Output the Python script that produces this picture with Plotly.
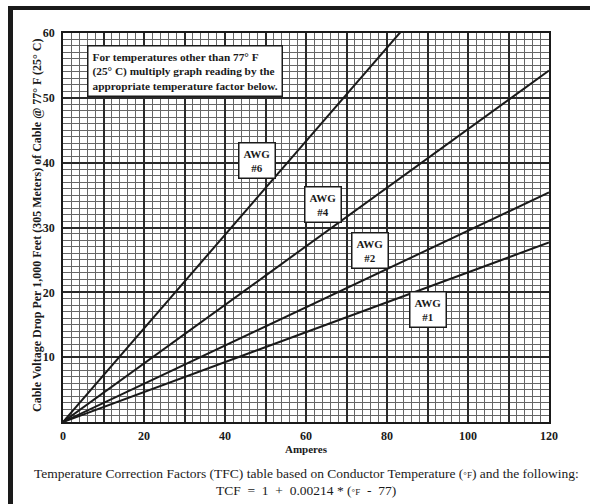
import plotly.graph_objects as go

# ---- data ----
amperes = [0, 120]
awg_names = ["AWG #6", "AWG #4", "AWG #2", "AWG #1"]
drop_awg6 = [0, 86.6]
drop_awg4 = [0, 54.2]
drop_awg2 = [0, 35.4]
drop_awg1 = [0, 27.7]
x_tickvals = list(range(0, 121, 10))
x_ticktext = ["0", "", "20", "", "40", "", "60", "", "80", "", "100", "", "120"]
y_tickvals = [10, 20, 30, 40, 50, 60]
y_ticktext = ["10", "20", "30", "40", "50", "60"]

W, H = 590, 504
L, R, T, B = 63, 41, 33, 82
PW, PH = W - L - R, H - T - B

def px_x(px):
    return (px - L) / PW

def px_y(py):
    return (H - B - py) / PH

SERIF = "Liberation Serif"

fig = go.Figure()
for name, ys in zip(awg_names, [drop_awg6, drop_awg4, drop_awg2, drop_awg1]):
    fig.add_trace(go.Scatter(x=amperes, y=ys, mode="lines", name=name,
                             line=dict(color="#1a1a1a", width=2), showlegend=False))

fig.update_layout(
    width=W, height=H,
    margin=dict(l=L, r=R, t=T, b=B, pad=0),
    paper_bgcolor="white", plot_bgcolor="white",
    font=dict(family=SERIF, color="#1a1a1a"),
    xaxis=dict(range=[0, 120], tickvals=x_tickvals, ticktext=x_ticktext,
               showgrid=True, gridcolor="#2a2a2a", gridwidth=1.6,
               zeroline=False, showline=True, linecolor="#1a1a1a", linewidth=1.5,
               mirror=True, ticks="", ticklabelstandoff=2,
               tickfont=dict(family=SERIF, size=12, color="#1a1a1a", weight="bold"),
               minor=dict(dtick=2, showgrid=True, gridcolor="#666666", gridwidth=1)),
    yaxis=dict(range=[0, 60], tickvals=y_tickvals, ticktext=y_ticktext,
               showgrid=True, gridcolor="#2a2a2a", gridwidth=1.6,
               zeroline=False, showline=True, linecolor="#1a1a1a", linewidth=1.5,
               mirror=True, ticks="", ticklabelstandoff=4,
               tickfont=dict(family=SERIF, size=12, color="#1a1a1a", weight="bold"),
               minor=dict(dtick=1, showgrid=True, gridcolor="#666666", gridwidth=1)),
)

# AWG labels (positions in data units)
label_pos = {"AWG #6": (47.9, 40.4), "AWG #4": (64.1, 33.6),
             "AWG #2": (75.9, 26.5), "AWG #1": (90.0, 17.4)}
for name in awg_names:
    lx, ly = label_pos[name]
    fig.add_annotation(x=lx, y=ly, xref="x", yref="y", showarrow=False,
                       xanchor="center", yanchor="middle",
                       text=name.replace(" ", "<br>"),
                       font=dict(family=SERIF, size=11, color="#1a1a1a", weight="bold"),
                       bgcolor="white", bordercolor="#1a1a1a", borderwidth=1.5, borderpad=4)

# note box
fig.add_annotation(x=px_x(87), y=px_y(45), xref="paper", yref="paper",
                   xanchor="left", yanchor="top", showarrow=False, align="left",
                   text="For temperatures other than 77° F<br>(25° C) multiply graph reading by the"
                        "<br>appropriate temperature factor below.",
                   font=dict(family=SERIF, size=11.3, color="#1a1a1a", weight="bold"),
                   bgcolor="white", bordercolor="#1a1a1a", borderwidth=1.5, borderpad=4)

# axis titles
fig.add_annotation(x=px_x(37), y=px_y(226), xref="paper", yref="paper", showarrow=False,
                   xanchor="center", yanchor="middle", textangle=-90,
                   text="Cable Voltage Drop Per 1,000 Feet (305 Meters) of Cable @ 77° F (25° C)",
                   font=dict(family=SERIF, size=12, color="#1a1a1a", weight="bold"))
fig.add_annotation(x=px_x(306), y=px_y(449), xref="paper", yref="paper", showarrow=False,
                   xanchor="center", yanchor="middle",
                   text="Amperes",
                   font=dict(family=SERIF, size=11, color="#1a1a1a", weight="bold"))

# footer text
fig.add_annotation(x=px_x(306), y=px_y(473), xref="paper", yref="paper", showarrow=False,
                   xanchor="center", yanchor="middle",
                   text="Temperature Correction Factors (TFC) table based on Conductor Temperature "
                        "(<span style='font-size:9px'>°F</span>) and the following:",
                   font=dict(family=SERIF, size=13.5, color="#1a1a1a"))
fig.add_annotation(x=px_x(306), y=px_y(490), xref="paper", yref="paper", showarrow=False,
                   xanchor="center", yanchor="middle",
                   text="TCF  =  1  +  0.00214 * (<span style='font-size:9px'>°F</span>  -  77)",
                   font=dict(family=SERIF, size=13.5, color="#1a1a1a"))

# black frame (top and left bars)
fig.add_shape(type="rect", xref="paper", yref="paper",
              x0=px_x(8), x1=px_x(590), y0=px_y(10), y1=px_y(6),
              fillcolor="#1a1a1a", line=dict(width=0))
fig.add_shape(type="rect", xref="paper", yref="paper",
              x0=px_x(8), x1=px_x(13), y0=px_y(504), y1=px_y(6),
              fillcolor="#1a1a1a", line=dict(width=0))

fig.write_html("out.html")
